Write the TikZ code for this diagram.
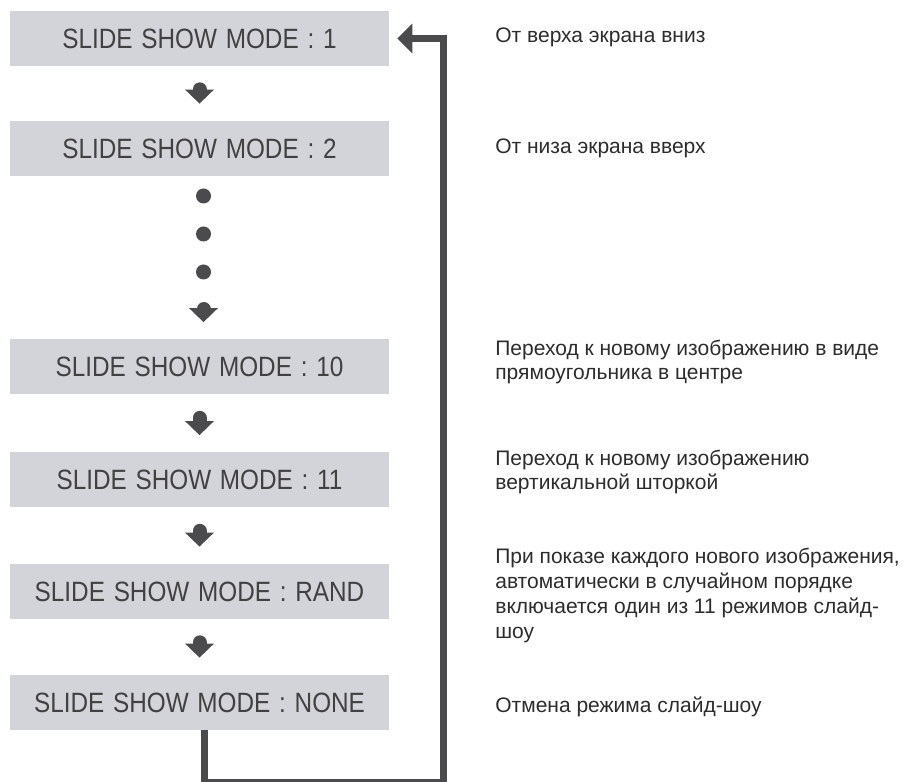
\documentclass[tikz,border=0pt]{standalone}
\usepackage{fontspec}
\setmainfont{Liberation Sans}
\newfontfamily\boxfont[FakeStretch=0.87,WordSpace=1.3]{Liberation Sans}
\usetikzlibrary{arrows.meta}
\definecolor{boxgray}{HTML}{D3D4D9}
\definecolor{arrgray}{HTML}{4B4B4D}
\definecolor{txtgray}{HTML}{2C2C2C}
\begin{document}
\begin{tikzpicture}[
  mode/.style={fill=boxgray,minimum width=7.58cm,minimum height=1.1cm,inner sep=0pt,
    text=txtgray!90,font=\boxfont\fontsize{15.9}{18}\selectfont},
  note/.style={anchor=base west,align=left,inner sep=0pt,text=txtgray,
    font=\fontsize{11.95}{14.2}\selectfont},
  dot/.style={circle,fill=arrgray,minimum size=0.3cm,inner sep=0pt},
  down/.style={arrgray,line width=0.28cm,line cap=round,
    -{Triangle[length=0.28cm,width=0.56cm]},shorten <=0.46cm,shorten >=0.34cm},
  backline/.style={arrgray,line width=0.14cm,
    -{Triangle[length=0.3cm,width=0.58cm]},shorten >=0.16cm}]
\useasboundingbox (0,0) rectangle (18.14,15.62);
\node[mode] (m1) at (3.99,14.85) {SLIDE SHOW MODE : 1};
\node[mode] (m2) at (3.99,12.65) {SLIDE SHOW MODE : 2};
\node[dot] (d1) at (4.07,11.7) {};
\node[dot] (d2) at (4.07,10.94) {};
\node[dot] (d3) at (4.07,10.18) {};
\node[mode] (m10) at (3.99,8.28) {SLIDE SHOW MODE : 10};
\node[mode] (m11) at (3.99,6.02) {SLIDE SHOW MODE : 11};
\node[mode] (mr) at (3.99,3.79) {SLIDE SHOW MODE : RAND};
\node[mode] (mn) at (3.99,1.57) {SLIDE SHOW MODE : NONE};
\draw[down] (m1) -- (m1 |- m2.north);
\draw[down,shorten <=0.6cm] (d3) -- (d3 |- m10.north);
\draw[down] (m10) -- (m10 |- m11.north);
\draw[down] (m11) -- (m11 |- mr.north);
\draw[down] (mr) -- (mr |- mn.north);
% return line
\coordinate (rc) at (8.87,-0.02);
\draw[backline] ([xshift=0.1cm]mn.south) |- (rc) |- (m1.east);
\node[note] (n1) at (9.9,14.76) {От верха экрана вниз};
\node[note] (n2) at (9.9,12.54) {От низа экрана вверх};
\node[note] (n10) at (9.9,8.02) {Переход к новому изображению в виде\\прямоугольника в центре};
\node[note] (n11) at (9.9,5.82) {Переход к новому изображению\\вертикальной шторкой};
\node[note] (nr) at (9.9,2.86) {При показе каждого нового изображения,\\автоматически в случайном порядке\\включается один из 11 режимов слайд-\\шоу};
\node[note] (nn) at (9.9,1.38) {Отмена режима слайд-шоу};
\end{tikzpicture}
\end{document}
